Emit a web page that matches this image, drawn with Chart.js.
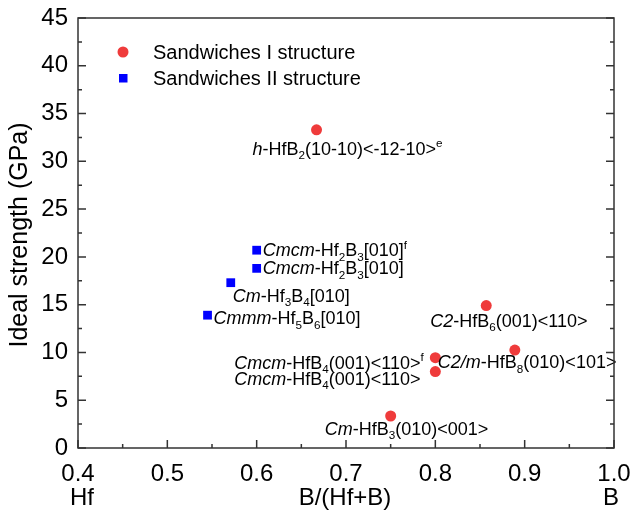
<!DOCTYPE html>
<html>
<head>
<meta charset="utf-8">
<script src="https://cdn.jsdelivr.net/npm/chart.js@4/dist/chart.umd.min.js"></script>
<style>
  body { margin: 0; background: #fff; }
  canvas { display: block; }
</style>
</head>
<body>
<canvas id="strength-chart" width="633" height="517"></canvas>
<script>
// B/(Hf+B) ratio and ideal strength (GPa)
const sandwichIX = [0.667, 0.857, 0.889, 0.8, 0.8, 0.75];
const sandwichIY = [33.3, 14.9, 10.25, 9.45, 8.0, 3.35];
const sandwichIIX = [0.6, 0.6, 0.571, 0.545];
const sandwichIIY = [20.7, 18.8, 17.3, 13.9];

const seriesNames = ["Sandwiches I structure", "Sandwiches II structure"];

// label text: [text, kind] with i = italic, n = normal, b = subscript, p = superscript
const sandwichILabels = [
  [["h", "i"], ["-HfB", "n"], ["2", "b"], ["(10-10)<-12-10>", "n"], ["e", "p"]],
  [["C2", "i"], ["-HfB", "n"], ["6", "b"], ["(001)<110>", "n"]],
  [["C2/m", "i"], ["-HfB", "n"], ["8", "b"], ["(010)<101>", "n"]],
  [["Cmcm", "i"], ["-HfB", "n"], ["4", "b"], ["(001)<110>", "n"], ["f", "p"]],
  [["Cmcm", "i"], ["-HfB", "n"], ["4", "b"], ["(001)<110>", "n"]],
  [["Cm", "i"], ["-HfB", "n"], ["3", "b"], ["(010)<001>", "n"]],
];
const sandwichIILabels = [
  [["Cmcm", "i"], ["-Hf", "n"], ["2", "b"], ["B", "n"], ["3", "b"], ["[010]", "n"], ["f", "p"]],
  [["Cmcm", "i"], ["-Hf", "n"], ["2", "b"], ["B", "n"], ["3", "b"], ["[010]", "n"]],
  [["Cm", "i"], ["-Hf", "n"], ["3", "b"], ["B", "n"], ["4", "b"], ["[010]", "n"]],
  [["Cmmm", "i"], ["-Hf", "n"], ["5", "b"], ["B", "n"], ["6", "b"], ["[010]", "n"]],
];

// where each label sits relative to its point (px: left edge, baseline)
const sandwichIOffsets = [[-64, 25], [-56, 21], [-77, 18], [-201, 11], [-201, 13], [-66, 19]];
const sandwichIIOffsets = [[6, 6], [6, 6], [2, 19], [6, 9]];

const FONT = '"Liberation Sans", Arial, sans-serif';
const RED = "#EF3B3B";
const BLUE = "#0000FF";

const toPoints = (xs, ys) => xs.map((x, i) => ({ x, y: ys[i] }));

function drawRich(ctx, segs, x, y, size) {
  let cx = x;
  for (const [t, kind] of segs) {
    const small = kind === "b" || kind === "p";
    const fs = small ? size * 0.65 : size;
    ctx.font = `${kind === "i" ? "italic " : ""}${fs}px ${FONT}`;
    const dy = kind === "b" ? size * 0.25 : kind === "p" ? -size * 0.42 : 0;
    ctx.fillText(t, cx, y + dy);
    cx += ctx.measureText(t).width;
  }
}

// point labels, legend, frame with inward ticks, axis titles
const decorations = {
  id: "decorations",
  afterDraw(chart) {
    const { ctx, chartArea: a, scales } = chart;
    const xs = scales.x, ys = scales.y;
    ctx.save();
    ctx.fillStyle = "#000";
    ctx.textBaseline = "alphabetic";
    ctx.textAlign = "left";

    // labels next to the points
    const groups = [
      [sandwichIX, sandwichIY, sandwichILabels, sandwichIOffsets],
      [sandwichIIX, sandwichIIY, sandwichIILabels, sandwichIIOffsets],
    ];
    groups.forEach(([gx, gy, labels, offs]) => {
      gx.forEach((v, i) => {
        const px = xs.getPixelForValue(v);
        const py = ys.getPixelForValue(gy[i]);
        drawRich(ctx, labels[i], px + offs[i][0], py + offs[i][1], 18);
      });
    });

    // legend
    ctx.fillStyle = RED;
    ctx.beginPath();
    ctx.arc(123, 52, 5.5, 0, Math.PI * 2);
    ctx.fill();
    ctx.fillStyle = BLUE;
    ctx.fillRect(119, 74, 8.5, 8.5);
    ctx.fillStyle = "#000";
    ctx.font = `20px ${FONT}`;
    ctx.fillText(seriesNames[0], 153, 59);
    ctx.fillText(seriesNames[1], 153, 85);

    // frame
    ctx.strokeStyle = "#333";
    ctx.lineWidth = 1.5;
    ctx.strokeRect(a.left, a.top, a.right - a.left, a.bottom - a.top);

    // x ticks (major 0.1, minor 0.05), inward
    ctx.beginPath();
    for (let i = 0; i <= 12; i++) {
      const px = xs.getPixelForValue(0.4 + i * 0.05);
      const len = i % 2 === 0 ? 8 : 4;
      ctx.moveTo(px, a.bottom);
      ctx.lineTo(px, a.bottom - len);
    }
    // y ticks (major 5, minor 2.5), left and right, inward
    for (let i = 0; i <= 18; i++) {
      const py = ys.getPixelForValue(i * 2.5);
      const len = i % 2 === 0 ? 8 : 4;
      ctx.moveTo(a.left, py);
      ctx.lineTo(a.left + len, py);
      ctx.moveTo(a.right, py);
      ctx.lineTo(a.right - len, py);
    }
    ctx.stroke();

    // axis titles
    ctx.fillStyle = "#000";
    ctx.font = `24px ${FONT}`;
    ctx.textAlign = "center";
    ctx.fillText("Hf", xs.getPixelForValue(0.4) + 4, 505);
    ctx.fillText("B", xs.getPixelForValue(1.0) - 3, 505);
    ctx.fillText("B/(Hf+B)", 345, 505);

    ctx.translate(27, 235);
    ctx.rotate(-Math.PI / 2);
    ctx.font = `25px ${FONT}`;
    ctx.fillText("Ideal strength (GPa)", 0, 0);
    ctx.restore();
  },
};

new Chart(document.getElementById("strength-chart"), {
  type: "scatter",
  data: {
    datasets: [
      {
        label: seriesNames[0],
        data: toPoints(sandwichIX, sandwichIY),
        pointStyle: "circle",
        pointRadius: 5.5,
        backgroundColor: RED,
        borderColor: RED,
        borderWidth: 0,
      },
      {
        label: seriesNames[1],
        data: toPoints(sandwichIIX, sandwichIIY),
        pointStyle: "rect",
        pointRadius: 6.2,
        backgroundColor: BLUE,
        borderColor: BLUE,
        borderWidth: 0,
      },
    ],
  },
  plugins: [decorations],
  options: {
    responsive: false,
    devicePixelRatio: 1,
    animation: false,
    layout: { padding: { top: 18, right: 19, left: 0, bottom: 0 } },
    scales: {
      x: {
        type: "linear",
        min: 0.4,
        max: 1.0,
        grid: { display: false, drawTicks: false },
        border: { display: false },
        ticks: {
          stepSize: 0.1,
          padding: 12,
          color: "#000",
          font: { family: FONT, size: 24 },
          callback: (v) => v.toFixed(1),
        },
        afterFit: (scale) => {
          scale.height = 69;
          scale.paddingLeft = 0;
          scale.paddingRight = 0;
        },
      },
      y: {
        type: "linear",
        min: 0,
        max: 45,
        grid: { display: false, drawTicks: false },
        border: { display: false },
        ticks: {
          stepSize: 5,
          padding: 10,
          color: "#000",
          font: { family: FONT, size: 24 },
        },
        afterFit: (scale) => {
          scale.width = 78;
          scale.paddingTop = 0;
          scale.paddingBottom = 0;
        },
      },
    },
    plugins: {
      legend: { display: false },
      tooltip: { enabled: false },
    },
  },
});
</script>
</body>
</html>
